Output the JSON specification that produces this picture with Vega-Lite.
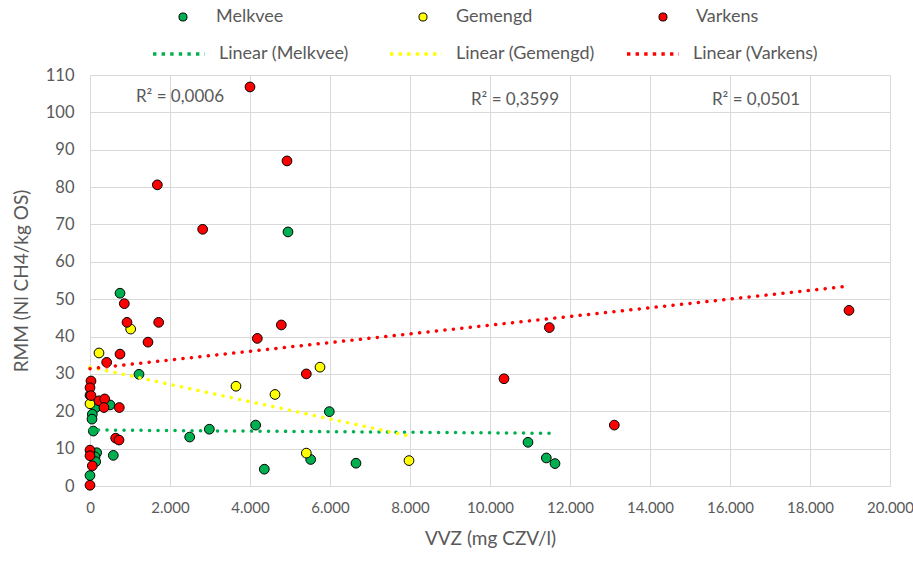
{
  "$schema": "https://vega.github.io/schema/vega-lite/v6.json",
  "width": 800,
  "height": 411,
  "autosize": {"type": "none"},
  "padding": {"left": 90, "top": 75, "right": 23, "bottom": 75},
  "background": "white",
  "config": {"view": {"stroke": null}},
  "datasets": {
    "points": [
      {"type": "Melkvee", "vvz": 750, "rmm": 51.6},
      {"type": "Melkvee", "vvz": 1225, "rmm": 29.9},
      {"type": "Melkvee", "vvz": 0, "rmm": 24.3},
      {"type": "Melkvee", "vvz": 142, "rmm": 21.0},
      {"type": "Melkvee", "vvz": 500, "rmm": 21.7},
      {"type": "Melkvee", "vvz": 58, "rmm": 19.2},
      {"type": "Melkvee", "vvz": 50, "rmm": 17.9},
      {"type": "Melkvee", "vvz": 83, "rmm": 14.7},
      {"type": "Melkvee", "vvz": 2492, "rmm": 13.1},
      {"type": "Melkvee", "vvz": 2983, "rmm": 15.2},
      {"type": "Melkvee", "vvz": 4142, "rmm": 16.3},
      {"type": "Melkvee", "vvz": 167, "rmm": 8.9},
      {"type": "Melkvee", "vvz": 125, "rmm": 7.8},
      {"type": "Melkvee", "vvz": 142, "rmm": 6.5},
      {"type": "Melkvee", "vvz": 583, "rmm": 8.2},
      {"type": "Melkvee", "vvz": 0, "rmm": 2.8},
      {"type": "Melkvee", "vvz": 4950, "rmm": 68.0},
      {"type": "Melkvee", "vvz": 5983, "rmm": 19.9},
      {"type": "Melkvee", "vvz": 5517, "rmm": 7.1},
      {"type": "Melkvee", "vvz": 4358, "rmm": 4.5},
      {"type": "Melkvee", "vvz": 6650, "rmm": 6.1},
      {"type": "Melkvee", "vvz": 10950, "rmm": 11.7},
      {"type": "Melkvee", "vvz": 11408, "rmm": 7.5},
      {"type": "Melkvee", "vvz": 11625, "rmm": 6.0},
      {"type": "Gemengd", "vvz": 1017, "rmm": 42.0},
      {"type": "Gemengd", "vvz": 225, "rmm": 35.6},
      {"type": "Gemengd", "vvz": 0, "rmm": 22.0},
      {"type": "Gemengd", "vvz": 3650, "rmm": 26.7},
      {"type": "Gemengd", "vvz": 4625, "rmm": 24.5},
      {"type": "Gemengd", "vvz": 5750, "rmm": 31.8},
      {"type": "Gemengd", "vvz": 5408, "rmm": 8.8},
      {"type": "Gemengd", "vvz": 7975, "rmm": 6.8},
      {"type": "Varkens", "vvz": 858, "rmm": 48.8},
      {"type": "Varkens", "vvz": 925, "rmm": 43.8},
      {"type": "Varkens", "vvz": 1717, "rmm": 43.8},
      {"type": "Varkens", "vvz": 1450, "rmm": 38.5},
      {"type": "Varkens", "vvz": 750, "rmm": 35.3},
      {"type": "Varkens", "vvz": 417, "rmm": 33.1},
      {"type": "Varkens", "vvz": 25, "rmm": 28.1},
      {"type": "Varkens", "vvz": 0, "rmm": 26.3},
      {"type": "Varkens", "vvz": 25, "rmm": 24.2},
      {"type": "Varkens", "vvz": 225, "rmm": 22.8},
      {"type": "Varkens", "vvz": 367, "rmm": 23.3},
      {"type": "Varkens", "vvz": 350, "rmm": 21.0},
      {"type": "Varkens", "vvz": 733, "rmm": 21.0},
      {"type": "Varkens", "vvz": 642, "rmm": 12.8},
      {"type": "Varkens", "vvz": 725, "rmm": 12.3},
      {"type": "Varkens", "vvz": 0, "rmm": 9.6},
      {"type": "Varkens", "vvz": 0, "rmm": 8.1},
      {"type": "Varkens", "vvz": 58, "rmm": 5.4},
      {"type": "Varkens", "vvz": 0, "rmm": 0.2},
      {"type": "Varkens", "vvz": 1683, "rmm": 80.6},
      {"type": "Varkens", "vvz": 2817, "rmm": 68.7},
      {"type": "Varkens", "vvz": 4000, "rmm": 106.8},
      {"type": "Varkens", "vvz": 4925, "rmm": 87.0},
      {"type": "Varkens", "vvz": 4783, "rmm": 43.1},
      {"type": "Varkens", "vvz": 4183, "rmm": 39.5},
      {"type": "Varkens", "vvz": 5408, "rmm": 30.0},
      {"type": "Varkens", "vvz": 10350, "rmm": 28.7},
      {"type": "Varkens", "vvz": 11483, "rmm": 42.4},
      {"type": "Varkens", "vvz": 18975, "rmm": 47.0},
      {"type": "Varkens", "vvz": 13108, "rmm": 16.3}
    ],
    "trends": [
      {"trend": "Linear (Melkvee)", "vvz": 0, "rmm": 15.0},
      {"trend": "Linear (Melkvee)", "vvz": 11625, "rmm": 14.1},
      {"trend": "Linear (Gemengd)", "vvz": 0, "rmm": 31.8},
      {"trend": "Linear (Gemengd)", "vvz": 7975, "rmm": 13.4},
      {"trend": "Linear (Varkens)", "vvz": 0, "rmm": 31.4},
      {"trend": "Linear (Varkens)", "vvz": 18975, "rmm": 53.5}
    ],
    "labels": [
      {"label": "R² = 0,0006", "vvz": 2250, "rmm": 104.0},
      {"label": "R² = 0,3599", "vvz": 10625, "rmm": 103.2},
      {"label": "R² = 0,0501", "vvz": 16650, "rmm": 103.2}
    ]
  },
  "encoding": {
    "x": {
      "field": "vvz", "type": "quantitative",
      "scale": {"domain": [0, 20000], "nice": false, "zero": false},
      "title": "VVZ (mg CZV/l)",
      "axis": {
        "values": [0, 2000, 4000, 6000, 8000, 10000, 12000, 14000, 16000, 18000, 20000],
        "labelExpr": "replace(format(datum.value, ',d'), ',', '.')",
        "grid": true, "gridColor": "#d9d9d9", "gridWidth": 1,
        "domain": false, "ticks": false,
        "labelFlush": false, "labelOverlap": false, "labelBound": false,
        "labelPadding": 14,
        "labelFont": "Lato", "labelFontSize": 15, "labelColor": "#595959",
        "titleFont": "Lato", "titleFontSize": 19, "titleColor": "#595959", "titleFontWeight": "normal",
        "titlePadding": 14
      }
    },
    "y": {
      "field": "rmm", "type": "quantitative",
      "scale": {"domain": [0, 110], "nice": false},
      "title": "RMM (Nl CH4/kg OS)",
      "axis": {
        "values": [0, 10, 20, 30, 40, 50, 60, 70, 80, 90, 100, 110],
        "tickCount": 12,
        "grid": true, "gridColor": "#d9d9d9", "gridWidth": 1,
        "domain": false, "ticks": false,
        "labelOverlap": false, "labelPadding": 16,
        "labelFont": "Lato", "labelFontSize": 16.5, "labelColor": "#595959",
        "titleFont": "Lato", "titleFontSize": 19, "titleColor": "#595959", "titleFontWeight": "normal",
        "titlePadding": 14
      }
    }
  },
  "layer": [
    {
      "data": {"name": "points"},
      "mark": {"type": "circle", "size": 95, "stroke": "#000000", "strokeWidth": 1, "opacity": 1, "fillOpacity": 1},
      "encoding": {
        "fill": {
          "field": "type", "type": "nominal",
          "scale": {"domain": ["Melkvee", "Gemengd", "Varkens"], "range": ["#00b050", "#ffff00", "#ff0000"]},
          "legend": {
            "title": null, "orient": "none", "legendX": 84, "legendY": -67,
            "direction": "horizontal", "columns": 3, "gridAlign": "all",
            "columnPadding": 121, "padding": 0,
            "symbolType": "circle", "symbolSize": 65,
            "symbolStrokeColor": "#000000", "symbolStrokeWidth": 1,
            "labelOffset": 24, "labelFont": "Lato", "labelFontSize": 18, "labelColor": "#595959"
          }
        }
      }
    },
    {
      "data": {"name": "trends"},
      "mark": {"type": "line", "strokeWidth": 3.5, "strokeDash": [0.1, 8.4], "strokeCap": "round"},
      "encoding": {
        "stroke": {
          "field": "trend", "type": "nominal",
          "scale": {"domain": ["Linear (Melkvee)", "Linear (Gemengd)", "Linear (Varkens)"], "range": ["#00b050", "#ffff00", "#ff0000"]},
          "legend": {
            "title": null, "orient": "none", "legendX": 61, "legendY": -49,
            "direction": "horizontal", "columns": 3, "gridAlign": "all",
            "columnPadding": 25, "padding": 0,
            "symbolType": "stroke", "symbolSize": 2704, "symbolStrokeWidth": 3.5,
            "symbolDash": [3.4, 5.2],
            "labelOffset": 12, "labelFont": "Lato", "labelFontSize": 18, "labelColor": "#595959"
          }
        }
      }
    },
    {
      "data": {"name": "labels"},
      "mark": {"type": "text", "font": "Lato", "fontSize": 17, "color": "#595959"},
      "encoding": {
        "text": {"field": "label", "type": "nominal"}
      }
    }
  ]
}
